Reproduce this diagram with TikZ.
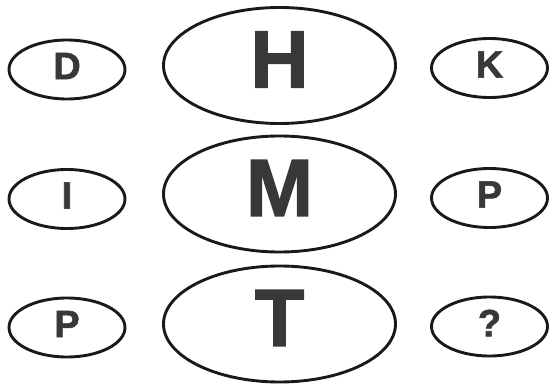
\documentclass[tikz,border=0pt]{standalone}
\usepackage{fontspec}
\setmainfont{Liberation Sans}[BoldFeatures={FakeBold=1.6}]
\usetikzlibrary{shapes.geometric}
\begin{document}
\begin{tikzpicture}[x=1pt,y=-1pt,
  sideoval/.style={ellipse,draw=black!90,line width=2.9pt,inner sep=0pt,
    minimum width=116pt,minimum height=59pt,text depth=7pt,text=black!78,
    font=\fontsize{38}{38}\selectfont\bfseries},
  midoval/.style={ellipse,draw=black!90,line width=2.9pt,inner sep=0pt,
    minimum width=232pt,minimum height=116pt,text depth=12pt,text=black!78,
    font=\fontsize{81}{81}\selectfont\bfseries}]
  \useasboundingbox (0,0) rectangle (549,385);
  % left column
  \node[sideoval] (d) at (67,69.5) {D};
  \node[sideoval] (i) at (67,199) {I};
  \node[sideoval] (pl) at (67,327.5) {P};
  % middle column
  \node[midoval] (h) at (279.5,65.5) {H};
  \node[midoval] (m) at (279.5,194) {M};
  \node[midoval] (t) at (279.5,324) {T};
  % right column
  \node[sideoval] (k) at (489.5,68) {K};
  \node[sideoval] (pr) at (489.5,198) {P};
  \node[sideoval] (q) at (489.5,326.5) {?};
\end{tikzpicture}
\end{document}
